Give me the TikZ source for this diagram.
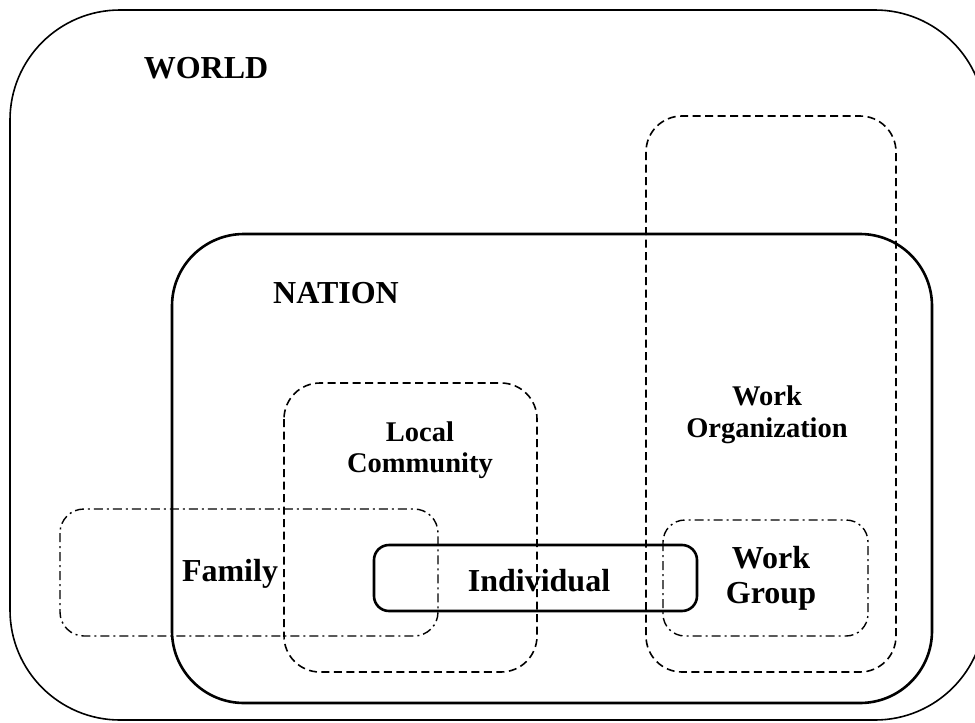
\documentclass[tikz,border=0pt]{standalone}
\usepackage{fontspec}
\setmainfont{Liberation Serif}
\usepackage{tikz}
\usetikzlibrary{positioning}
\tikzstyle{thinbox}=[line width=1.6pt, rounded corners=110pt]
\tikzstyle{thickbox}=[line width=2.6pt]
\tikzstyle{dashbox}=[line width=1.6pt, dash pattern=on 8pt off 4.5pt]
\tikzstyle{dotdashbox}=[line width=1.4pt, dash pattern=on 9pt off 4pt on 2pt off 4pt]
\tikzstyle{biglbl}=[font=\fontsize{32}{35}\selectfont\bfseries, align=center, inner sep=0pt]
\tikzstyle{lbl}=[font=\fontsize{28.5}{31.5}\selectfont\bfseries, align=center, inner sep=0pt]
\begin{document}
\begin{tikzpicture}[x=1pt,y=-1pt]
\clip (0,0) rectangle (975,723);
% the spheres
\draw[thinbox] (10,10) rectangle (985,720);
\draw[thickbox, rounded corners=72pt] (172,234) rectangle (932,703);
\draw[dashbox, rounded corners=36pt] (646,116) rectangle (896,672);
\draw[dashbox, rounded corners=36pt] (284,383) rectangle (537,672);
\draw[dotdashbox, rounded corners=24pt] (60,509) rectangle (438,636);
\draw[dotdashbox, rounded corners=22pt] (663,520) rectangle (868,636);
\draw[thickbox, rounded corners=15pt] (374,545) rectangle (697,611);
% labels
\node[biglbl] (world) at (206,68) {WORLD};
\node[biglbl] (nation) at (336,293) {NATION};
\node[lbl] (community) at (420,450) {Local\\Community};
\node[lbl] (workorg) at (767,415) {Work\\Organization};
\node[biglbl] (family) at (230,574) {Family};
\node[biglbl] (individual) at (539,581) {Individual};
\node[biglbl] (workgroup) at (771,578) {Work\\Group};
\end{tikzpicture}
\end{document}
